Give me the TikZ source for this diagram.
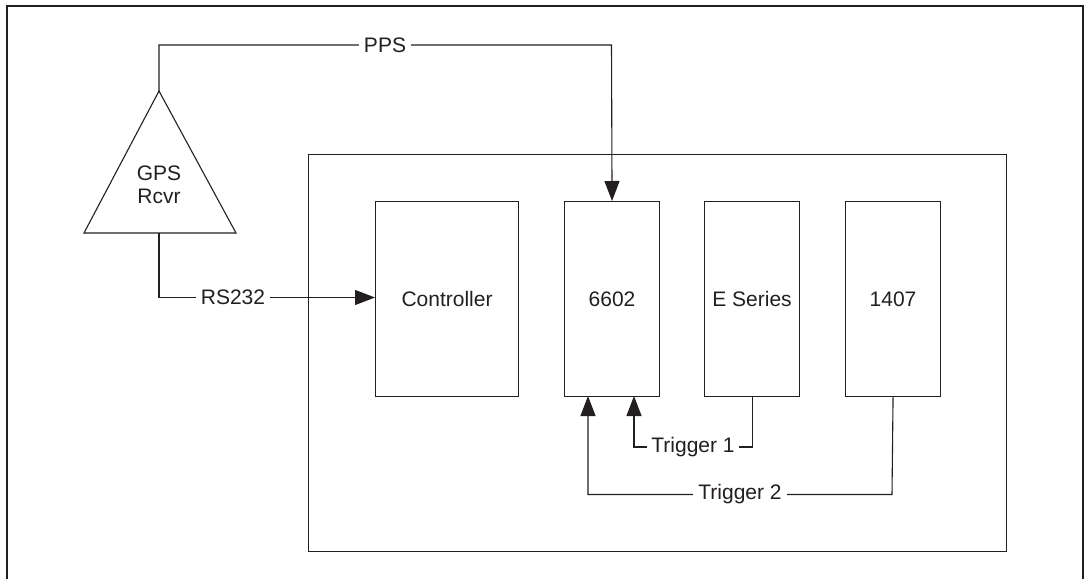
\documentclass[tikz,border=0pt]{standalone}
\usepackage{fontspec}
\setmainfont{Liberation Sans}
\usetikzlibrary{arrows.meta,shapes.geometric}
\definecolor{ink}{HTML}{231F20}
\begin{document}
\begin{tikzpicture}[x=1pt,y=-1pt,
  every node/.style={font=\fontsize{21}{25}\selectfont, text=ink},
  wire/.style={draw=ink, line width=1.1pt},
  arr/.style={wire, -{Triangle[length=20pt,width=15pt]}},
  card/.style={draw=ink, line width=1.1pt, minimum width=95pt, minimum height=195pt, anchor=north west, inner sep=0pt},
  lbl/.style={fill=white, inner xsep=5pt, inner ysep=2pt}]
\useasboundingbox (0,0) rectangle (1086,578);
% outer frame (open at bottom)
\draw[ink, line width=2.4pt] (7,580) -- (7,6) -- (1083,6) -- (1083,580);
% chassis
\node[draw=ink, line width=1.1pt, minimum width=698pt, minimum height=397pt, anchor=north west, inner sep=0pt] (chassis) at (308,154) {};
% GPS receiver triangle
\coordinate (apex) at (159,91);
\coordinate (bl) at (84,233);
\coordinate (br) at (236,233);
\coordinate (base) at (159,233);
\draw[wire] (apex) -- (br) -- (bl) -- cycle;
\node[align=center, inner sep=0pt] (gps) at (159,185) {GPS\\[-2pt]Rcvr};
% cards
\node[card, minimum width=143pt] (ctrl) at (375,201) {};
\node (ctrlt) at (ctrl.center) {Controller};
\node[card] (c6602) at (564,201) {};
\node (c6602t) at (c6602.center) {6602};
\node[card] (eser) at (704,201) {};
\node (esert) at (eser.center) {E Series};
\node[card] (c1407) at (845,201) {};
\node (c1407t) at (c1407.center) {1407};
% PPS
\coordinate (ppsc) at (159,45);
\coordinate (ppsd) at (611.5,45);
\draw[arr] (apex) -- (ppsc) -- (ppsd) -- (c6602.north);
\node[lbl] (pps) at (385,45) {PPS};
% RS232
\coordinate (rsc) at (159,297.5);
\draw[arr] (base) -- (rsc) -- (ctrl.west |- rsc);
\node[lbl] (rs) at (233,297.5) {RS232};
% Trigger 1
\coordinate (t1a) at (eser.south |- 0,447);
\coordinate (t1b) at (634,447);
\draw[arr] (eser.south) -- (t1a) -- (t1b) -- (634,396);
\node[lbl, inner xsep=4pt] (t1) at (693,447) {Trigger 1};
% Trigger 2
\coordinate (t2a) at (892,494.5);
\coordinate (t2b) at (588,494.5);
\draw[arr] (c1407.south) -- (t2a) -- (t2b) -- (588,396);
\node[lbl] (t2) at (740,494.5) {Trigger 2};
\end{tikzpicture}
\end{document}
